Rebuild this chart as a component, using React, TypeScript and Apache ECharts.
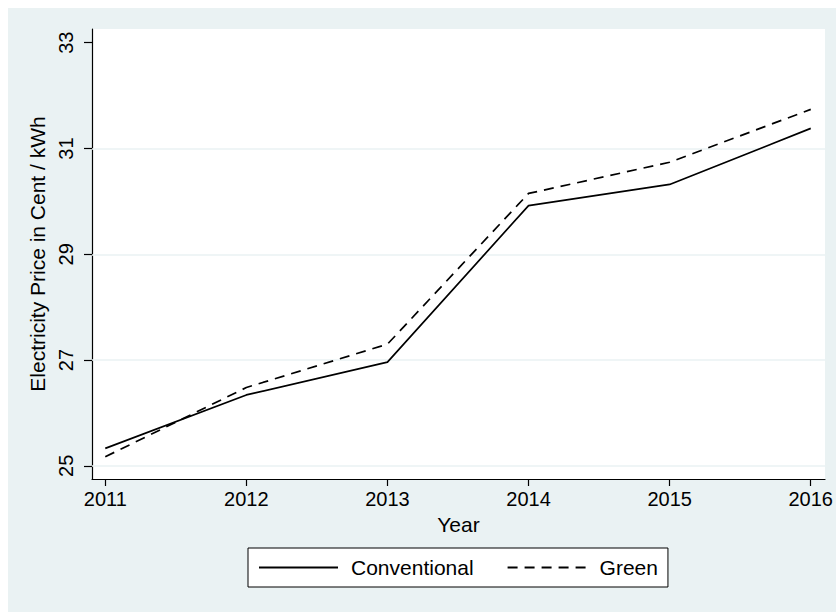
import React, { useEffect, useRef } from "react";
import * as echarts from "echarts";

const years = [2011, 2012, 2013, 2014, 2015, 2016];
const conventional = [25.33, 26.34, 26.96, 29.92, 30.32, 31.38];
const green = [25.17, 26.48, 27.3, 30.15, 30.74, 31.74];
const yTicks = [25, 27, 29, 31, 33];
const gridValues = [25, 27, 29, 31];
const xTicks = [2011, 2012, 2013, 2014, 2015, 2016];

const FONT = "'Liberation Sans', Arial, Helvetica, sans-serif";
const BG = "#EAF2F3";

export default function App() {
  const ref = useRef<HTMLDivElement>(null);
  useEffect(() => {
    if (!ref.current) return;
    const chart = echarts.init(ref.current, null, { renderer: "svg" });
    chart.setOption({
      animation: false,
      backgroundColor: BG,
      textStyle: { fontFamily: FONT },
      grid: {
        left: 84,
        top: 21,
        width: 733,
        height: 450,
        show: true,
        backgroundColor: "#fff",
        borderWidth: 0,
      },
      xAxis: {
        type: "value",
        min: 2010.906,
        max: 2016.101,
        name: "Year",
        nameLocation: "middle",
        nameGap: 33,
        nameTextStyle: { fontSize: 21, color: "#000", fontFamily: FONT },
        axisLine: { show: true, onZero: false, lineStyle: { color: "#000", width: 1.2 } },
        axisTick: { show: true, length: 7, customValues: xTicks, lineStyle: { color: "#000", width: 1.2 } },
        axisLabel: { customValues: xTicks, fontSize: 20, color: "#000", margin: 10, fontFamily: FONT, formatter: (v: number) => String(v) },
        splitLine: { show: false },
      },
      yAxis: {
        type: "value",
        min: 24.75,
        max: 33.26,
        name: "Electricity Price in Cent / kWh",
        nameLocation: "middle",
        nameGap: 38,
        nameTextStyle: { fontSize: 21, color: "#000", fontFamily: FONT },
        axisLine: { show: true, onZero: false, lineStyle: { color: "#000", width: 1.2 } },
        axisTick: { show: true, length: 8, customValues: yTicks, lineStyle: { color: "#000", width: 1.2 } },
        axisLabel: { customValues: yTicks, rotate: 90, fontSize: 20, color: "#000", margin: 16, fontFamily: FONT },
        splitLine: { show: false },
      },
      legend: {
        left: 240,
        top: 540,
        orient: "horizontal",
        itemWidth: 79,
        itemHeight: 20,
        itemGap: 33,
        padding: [9, 10, 9, 10],
        backgroundColor: "#fff",
        borderColor: "#000",
        borderWidth: 1,
        borderRadius: 0,
        itemStyle: { opacity: 0 },
        textStyle: { fontSize: 21, color: "#000", fontFamily: FONT, padding: [0, 0, 0, 8] },
        data: ["Conventional", "Green"],
      },
      series: [
        {
          name: "gridlines",
          type: "line",
          data: [],
          z: 1,
          silent: true,
          markLine: {
            silent: true,
            z: 1,
            symbol: "none",
            label: { show: false },
            lineStyle: { color: BG, width: 1.5, type: "solid" },
            data: gridValues.map((v) => ({ yAxis: v })),
          },
        },
        {
          name: "Conventional",
          type: "line",
          symbol: "none",
          z: 3,
          data: years.map((y, i) => [y, conventional[i]]),
          lineStyle: { color: "#000", width: 1.7, type: "solid" },
          itemStyle: { color: "#000" },
        },
        {
          name: "Green",
          type: "line",
          symbol: "none",
          z: 3,
          data: years.map((y, i) => [y, green[i]]),
          lineStyle: { color: "#000", width: 1.7, type: [10, 7] },
          itemStyle: { color: "#000" },
        },
      ],
    });
    return () => chart.dispose();
  }, []);
  return (
    <div
      ref={ref}
      style={{ position: "fixed", left: 8, top: 8, width: 828, height: 604 }}
    />
  );
}
